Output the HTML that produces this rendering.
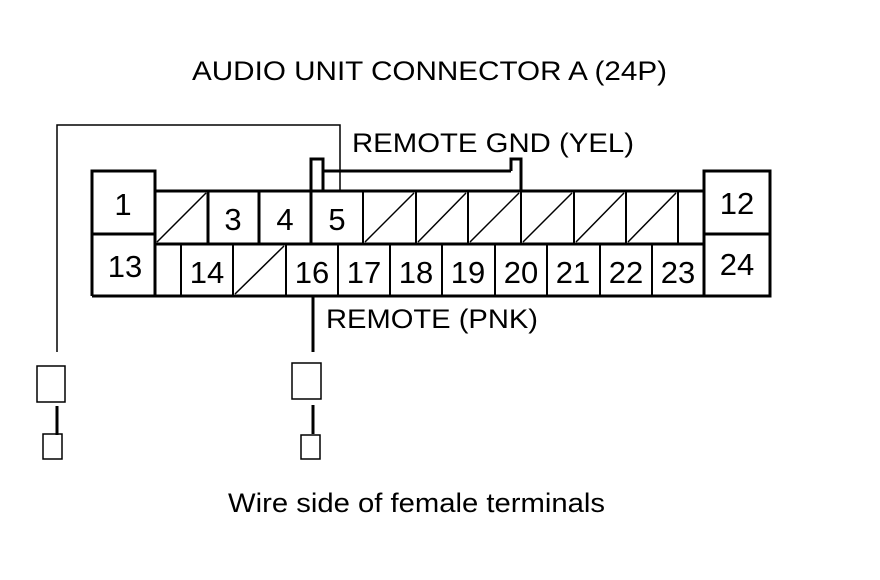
<!DOCTYPE html>
<html><head><meta charset="utf-8"><style>html,body{margin:0;padding:0;background:#fff}svg{display:block}</style></head>
<body>
<svg width="880" height="580" viewBox="0 0 880 580" xmlns="http://www.w3.org/2000/svg" font-family="Liberation Sans, Arial, sans-serif">
<rect width="880" height="580" fill="#fff"/>
<g fill="#000">
<text x="192" y="80" font-size="27" textLength="475" lengthAdjust="spacingAndGlyphs">AUDIO UNIT CONNECTOR A (24P)</text>
<text x="352" y="152" font-size="27" textLength="282" lengthAdjust="spacingAndGlyphs">REMOTE GND (YEL)</text>
<text x="326" y="328" font-size="27" textLength="212" lengthAdjust="spacingAndGlyphs">REMOTE (PNK)</text>
<text x="228" y="512" font-size="27" textLength="377" lengthAdjust="spacingAndGlyphs">Wire side of female terminals</text>
</g>
<g stroke="#000" fill="none" stroke-width="1.5">
<polyline points="57,352 57,125 340,125 340,191"/>
<rect x="37" y="366" width="28" height="36"/>
<rect x="43" y="434" width="19" height="25"/>
<rect x="292" y="363" width="29" height="36"/>
<rect x="301" y="435" width="19" height="24"/>
</g>
<g stroke="#000" stroke-width="3" fill="none">
<line x1="57" y1="406" x2="57" y2="435"/>
<line x1="313" y1="297" x2="313" y2="352"/>
<line x1="313" y1="405" x2="313" y2="434"/>
</g>
<g stroke="#000" stroke-width="3" fill="none">
<polyline points="92,296 92,171 155,171 155,191 311,191"/>
<polyline points="311,191 311,159 323,159 323,191"/>
<line x1="323" y1="171" x2="511" y2="171"/>
<polyline points="511,171 511,159 521,159 521,191"/>
<line x1="311" y1="191" x2="704" y2="191"/>
<polyline points="704,191 704,171 770,171 770,296 92,296"/>
<line x1="92" y1="234" x2="155" y2="234"/>
<line x1="704" y1="234" x2="770" y2="234"/>
<line x1="155" y1="191" x2="155" y2="296"/>
<line x1="704" y1="191" x2="704" y2="296"/>
<line x1="155" y1="244" x2="704" y2="244"/>
<line x1="208" y1="191" x2="208" y2="244"/>
<line x1="259" y1="191" x2="259" y2="244"/>
<line x1="311" y1="191" x2="311" y2="244"/>
</g>
<g stroke="#000" stroke-width="2" fill="none">
<line x1="363" y1="191" x2="363" y2="244"/>
<line x1="416" y1="191" x2="416" y2="244"/>
<line x1="468" y1="191" x2="468" y2="244"/>
<line x1="521" y1="191" x2="521" y2="244"/>
<line x1="574" y1="191" x2="574" y2="244"/>
<line x1="626" y1="191" x2="626" y2="244"/>
<line x1="678" y1="191" x2="678" y2="244"/>
<line x1="181" y1="244" x2="181" y2="296"/>
<line x1="233" y1="244" x2="233" y2="296"/>
<line x1="286" y1="244" x2="286" y2="296"/>
<line x1="338" y1="244" x2="338" y2="296"/>
<line x1="390" y1="244" x2="390" y2="296"/>
<line x1="442" y1="244" x2="442" y2="296"/>
<line x1="495" y1="244" x2="495" y2="296"/>
<line x1="547" y1="244" x2="547" y2="296"/>
<line x1="600" y1="244" x2="600" y2="296"/>
<line x1="652" y1="244" x2="652" y2="296"/>
</g>
<g stroke="#000" stroke-width="1.5">
<line x1="157" y1="242" x2="206" y2="193"/>
<line x1="365" y1="242" x2="414" y2="193"/>
<line x1="418" y1="242" x2="466" y2="193"/>
<line x1="470" y1="242" x2="519" y2="193"/>
<line x1="523" y1="242" x2="572" y2="193"/>
<line x1="576" y1="242" x2="624" y2="193"/>
<line x1="628" y1="242" x2="676" y2="193"/>
<line x1="235" y1="294" x2="284" y2="246"/>
</g>
<g fill="#000" font-size="31" text-anchor="middle">
<text x="123" y="215">1</text>
<text x="125" y="277">13</text>
<text x="233" y="230">3</text>
<text x="285" y="230">4</text>
<text x="337" y="230">5</text>
<text x="207" y="283">14</text>
<text x="312" y="283">16</text>
<text x="364" y="283">17</text>
<text x="416" y="283">18</text>
<text x="468" y="283">19</text>
<text x="521" y="283">20</text>
<text x="573" y="283">21</text>
<text x="626" y="283">22</text>
<text x="678" y="283">23</text>
<text x="737" y="214">12</text>
<text x="737" y="275">24</text>
</g>
</svg>
</body></html>
